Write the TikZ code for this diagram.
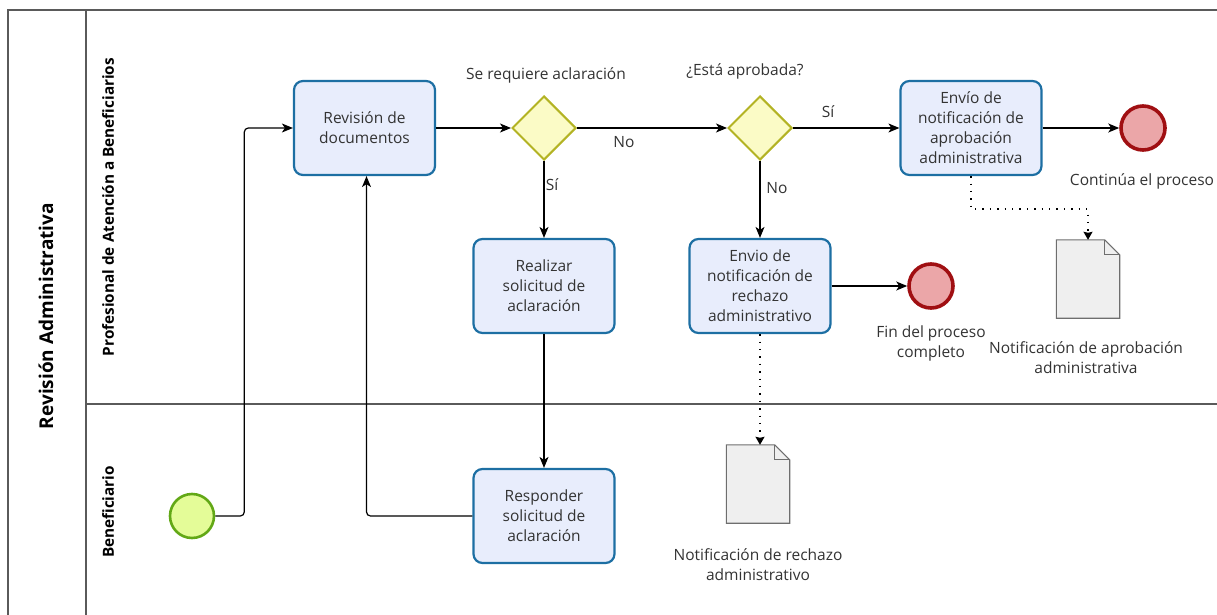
\documentclass[tikz,border=0pt]{standalone}
\usepackage{fontspec}
\setmainfont{Open Sans}
\usetikzlibrary{shapes.geometric,arrows.meta,calc}

\definecolor{txt}{HTML}{333333}
\definecolor{poolline}{HTML}{5A5A5A}
\definecolor{taskfill}{HTML}{E8EDFC}
\definecolor{taskline}{HTML}{1D6FA3}
\definecolor{gatefill}{HTML}{FBFBC6}
\definecolor{gateline}{HTML}{B3B324}
\definecolor{startfill}{HTML}{E4FC98}
\definecolor{startline}{HTML}{62A816}
\definecolor{endfill}{HTML}{EBA6A8}
\definecolor{endline}{HTML}{A00F12}
\definecolor{docfill}{HTML}{EFEFEF}
\definecolor{docline}{HTML}{6E6E6E}

\tikzset{
  task/.style={draw=taskline, fill=taskfill, line width=2.2pt, rounded corners=9pt,
    minimum width=141pt, minimum height=94pt, inner sep=0pt, align=center,
    text=txt, font=\fontsize{15.5}{20}\selectfont},
  gate/.style={diamond, draw=gateline, fill=gatefill, line width=2pt,
    minimum width=64pt, minimum height=64pt, inner sep=0pt},
  startev/.style={circle, draw=startline, fill=startfill, line width=2.6pt,
    minimum size=44pt, inner sep=0pt},
  endev/.style={circle, draw=endline, fill=endfill, line width=3.6pt,
    minimum size=44pt, inner sep=0pt},
  docnode/.style={minimum width=63pt, minimum height=78pt, inner sep=0pt},
  docbody/.style={draw=docline, fill=docfill, line width=1.1pt, line join=miter},
  flow/.style={draw=black, line width=1.2pt, -{Stealth[length=11pt,width=9pt,inset=3pt]}},
  assoc/.style={draw=black, line width=1.4pt, dash pattern=on 1.4pt off 6pt,
    -{Stealth[length=8pt,width=9pt,inset=1pt]}},
  lbl/.style={text=txt, font=\fontsize{15.5}{20}\selectfont, align=center, inner sep=0pt},
  lanelbl/.style={text=black, font=\bfseries\fontsize{15.3}{18}\selectfont, rotate=90, inner sep=0pt},
  poolrule/.style={draw=poolline, line width=1.3pt},
}

\begin{document}
\begin{tikzpicture}[x=1pt,y=-1pt]
\useasboundingbox (0,0) rectangle (1217,615);

% pool and lanes
\draw[poolrule] (8,617) -- (8,10) -- (1219,10);
\draw[poolrule] (86,10) -- (86,617);
\draw[poolrule] (86,404) -- (1219,404);
\node[text=black, font=\bfseries\fontsize{19}{22}\selectfont, rotate=90, inner sep=0pt]
  (pooltitle) at (46,316) {Revisión Administrativa};
\node[lanelbl] (laneA) at (108,207) {Profesional de Atención a Beneficiarios};
\node[lanelbl] (laneB) at (108,512) {Beneficiario};

% events
\node[startev] (start) at (192,516) {};
\node[endev] (endA) at (1143,128) {};
\node[endev] (endB) at (931,286) {};

% tasks
\node[task] (rev)   at (364.5,128) {Revisión de\\documentos};
\node[task] (real)  at (544,286)   {Realizar\\solicitud de\\aclaración};
\node[task] (resp)  at (544,516)   {Responder\\solicitud de\\aclaración};
\node[task] (rech)  at (760,286)   {Envio de\\notificación de\\rechazo\\administrativo};
\node[task] (aprob) at (971,128)   {Envío de\\notificación de\\aprobación\\administrativa};

% gateways
\node[gate] (g1) at (544,128) {};
\node[gate] (g2) at (760,128) {};

% data objects with folded corner
\node[docnode] (docR) at (758,484) {};
\node[docnode] (docA) at (1088,279) {};
\foreach \d in {docR,docA}{
  \draw[docbody] (\d.south west) -- (\d.north west) -- ($(\d.north east)+(-15,0)$)
    -- ($(\d.north east)+(0,15)$) -- (\d.south east) -- cycle;
  \draw[draw=docline, line width=0.8pt] ($(\d.north east)+(-15,0)$) |- ($(\d.north east)+(0,15)$);
}

% labels
\node[lbl] (lg1) at (546,75) {Se requiere aclaración};
\node[lbl] (lg2) at (745,71) {¿Está aprobada?};
\node[lbl] (lsi2) at (828,112) {Sí};
\node[lbl] (lno1) at (624,142) {No};
\node[lbl] (lsi1) at (552,185) {Sí};
\node[lbl] (lno2) at (777,188) {No};
\node[lbl] (lendA) at (1142,181) {Continúa el proceso};
\node[lbl] (lendB) at (931,343) {Fin del proceso\\completo};
\node[lbl] (ldocA) at (1086,358) {Notificación de aprobación\\administrativa};
\node[lbl] (ldocR) at (758,565) {Notificación de rechazo\\administrativo};

% sequence flows
\draw[flow, rounded corners=4pt] (start.east) -- ($(start.east)+(29,0)$) |- (rev.west);
\draw[flow] (rev.east) -- (g1.west);
\draw[flow] (g1.east) -- (g2.west);
\draw[flow] (g1.south) -- (real.north);
\draw[flow] (real.south) -- (resp.north);
\draw[flow, rounded corners=4pt] (resp.west) -| ($(rev.south)+(2,0)$);
\draw[flow] (g2.east) -- (aprob.west);
\draw[flow] (g2.south) -- (rech.north);
\draw[flow] (aprob.east) -- (endA.west);
\draw[flow] (rech.east) -- (endB.west);

% associations
\draw[assoc] (rech.south) -- (rech.south |- docR.north);
\draw[assoc] (aprob.south) -- ($(aprob.south)+(0,33)$) -| (docA.north);
\end{tikzpicture}
\end{document}
